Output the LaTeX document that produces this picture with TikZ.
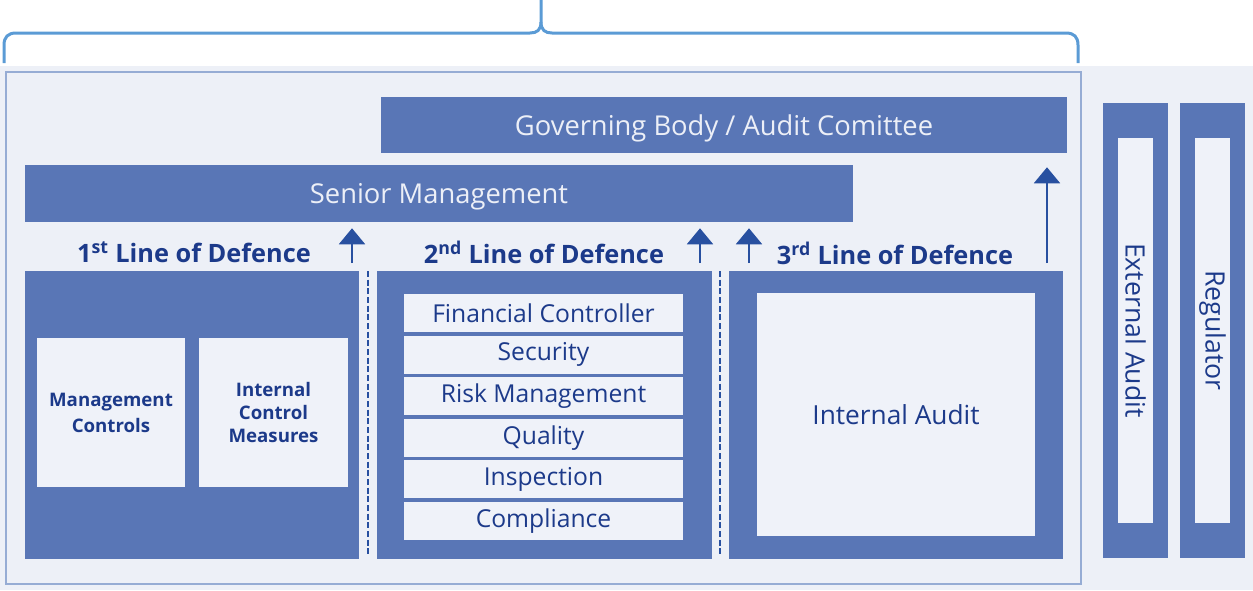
\documentclass[tikz,border=0pt]{standalone}
\usepackage{fontspec}
\setmainfont{Open Sans}
\usepackage{tikz,xcolor}
\usetikzlibrary{arrows.meta}

\definecolor{bodyblue}{RGB}{89,118,182}
\definecolor{paleblue}{RGB}{237,240,247}
\definecolor{cellblue}{RGB}{239,242,249}
\definecolor{navytext}{RGB}{28,58,138}
\definecolor{bartext}{RGB}{236,239,247}
\definecolor{arrowblue}{RGB}{40,80,160}
\definecolor{bracketblue}{RGB}{91,155,213}
\definecolor{frameblue}{RGB}{150,172,212}

\begin{document}
\begin{tikzpicture}[x=0.75pt,y=0.75pt,yscale=-1,xscale=1,
    bar/.style={fill=bodyblue,draw=none,text=bartext,font=\fontsize{20.5}{24}\selectfont,inner sep=0pt,text depth=0pt},
    panel/.style={fill=bodyblue,draw=none,minimum width=250.5pt,minimum height=216pt,inner sep=0pt},
    cell/.style={fill=cellblue,draw=none,text=navytext,inner sep=0pt,align=center},
    lod/.style={text=navytext,font=\fontsize{19}{22}\selectfont\bfseries,anchor=base,inner sep=0pt},
    uparrow/.style={draw=arrowblue,line width=1.5pt,-{Triangle[width=19.5pt,length=12pt]}},
    sepline/.style={draw=arrowblue,line width=2.1pt,dash pattern=on 4.5pt off 2pt}]
    \useasboundingbox (0,0) rectangle (1253,590);

    %Shape: Rectangle (background)
    \fill [paleblue] (0,66) rectangle (1253,590);
    \draw [frameblue, line width=1.1pt] (6,72) rectangle (1081,584);

    %Curve Lines (brace)
    \draw [bracketblue, line width=2.25pt] (4,63) -- (4,45) .. controls (4,37) and (8,33) .. (16,33) -- (530,33) .. controls (537,33) and (541,30) .. (541,22) -- (541,0);
    \draw [bracketblue, line width=2.25pt] (541,22) .. controls (541,30) and (545,33) .. (552,33) -- (1066,33) .. controls (1074,33) and (1078,37) .. (1078,45) -- (1078,63);

    %Shape: Rectangle (bars)
    \node [bar, minimum width=514.5pt, minimum height=42pt] (govbody) at (724,125) {Governing Body / Audit Comittee};
    \node [bar, minimum width=621pt, minimum height=42.75pt] (seniormgmt) at (439,193.5) {Senior Management};

    % Text Node
    \node [lod] (lod1) at (194,262) {1\textsuperscript{st} Line of Defence};
    \node [lod] (lod2) at (544,263) {2\textsuperscript{nd} Line of Defence};
    \node [lod] (lod3) at (895,264) {3\textsuperscript{rd} Line of Defence};

    %Shape: Rectangle (panels)
    \node [panel] (panel1) at (192,415) {};
    \node [panel, minimum width=251.25pt] (panel2) at (544.5,415) {};
    \node [panel] (panel3) at (896,415) {};

    %Straight Lines (separators)
    \coordinate (sep1) at (368,271);
    \coordinate (sep2) at (720,271);
    \draw [sepline] (sep1) -- ++(0,286);
    \draw [sepline] (sep2) -- ++(0,286);

    % 1st line
    \node [cell, minimum width=111pt, minimum height=111.75pt, font=\fontsize{14}{19.5}\selectfont\bfseries] (mgmtctrl) at (111,412.5) {Management\\Controls};
    \node [cell, minimum width=111.75pt, minimum height=111.75pt, font=\fontsize{14}{17}\selectfont\bfseries] (intctrl) at (273.5,412.5) {Internal\\Control\\Measures};

    % 2nd line
    \foreach \t [count=\i] in {Financial Controller, Security, Risk Management, Quality, Inspection, Compliance}
        \node [cell, minimum width=209.25pt, minimum height=28.5pt, font=\fontsize{18.5}{22}\selectfont] (item\i) at (543.5,271.4+\i*41.6) {\t};

    % 3rd line
    \node [cell, minimum width=208.5pt, minimum height=182.25pt, font=\fontsize{19.7}{24}\selectfont] (intaudit) at (896,414.5) {Internal Audit};

    %Shape: Rectangle (outside bodies)
    \node [fill=bodyblue, minimum width=48.75pt, minimum height=341.25pt, inner sep=0pt] (extframe) at (1135.5,330.5) {};
    \node [cell, minimum width=26.25pt, minimum height=288.75pt] (extaudit) at (extframe) {};
    \node [text=navytext, rotate=-90, font=\fontsize{20}{24}\selectfont, inner sep=0pt] (exttext) at (extframe) {External Audit};
    \node [fill=bodyblue, minimum width=48.75pt, minimum height=341.25pt, inner sep=0pt] (regframe) at (1212.5,330.5) {};
    \node [cell, minimum width=26.25pt, minimum height=288.75pt] (regulator) at (regframe) {};
    \node [text=navytext, rotate=-90, font=\fontsize{20}{24}\selectfont, inner sep=0pt] (regtext) at (regframe) {Regulator};

    %Straight Lines (arrows)
    \coordinate (up1) at (352,263);
    \coordinate (up2) at (700,263);
    \coordinate (up3) at (749,263);
    \coordinate (up4) at (1047,263);
    \draw [uparrow, shorten >=4.5pt] (up1) -- (up1 |- seniormgmt.south);
    \draw [uparrow, shorten >=4.5pt] (up2) -- (up2 |- seniormgmt.south);
    \draw [uparrow, shorten >=4.5pt] (up3) -- (up3 |- seniormgmt.south);
    \draw [uparrow, shorten >=10.5pt] (up4) -- (up4 |- govbody.south);
\end{tikzpicture}
\end{document}
